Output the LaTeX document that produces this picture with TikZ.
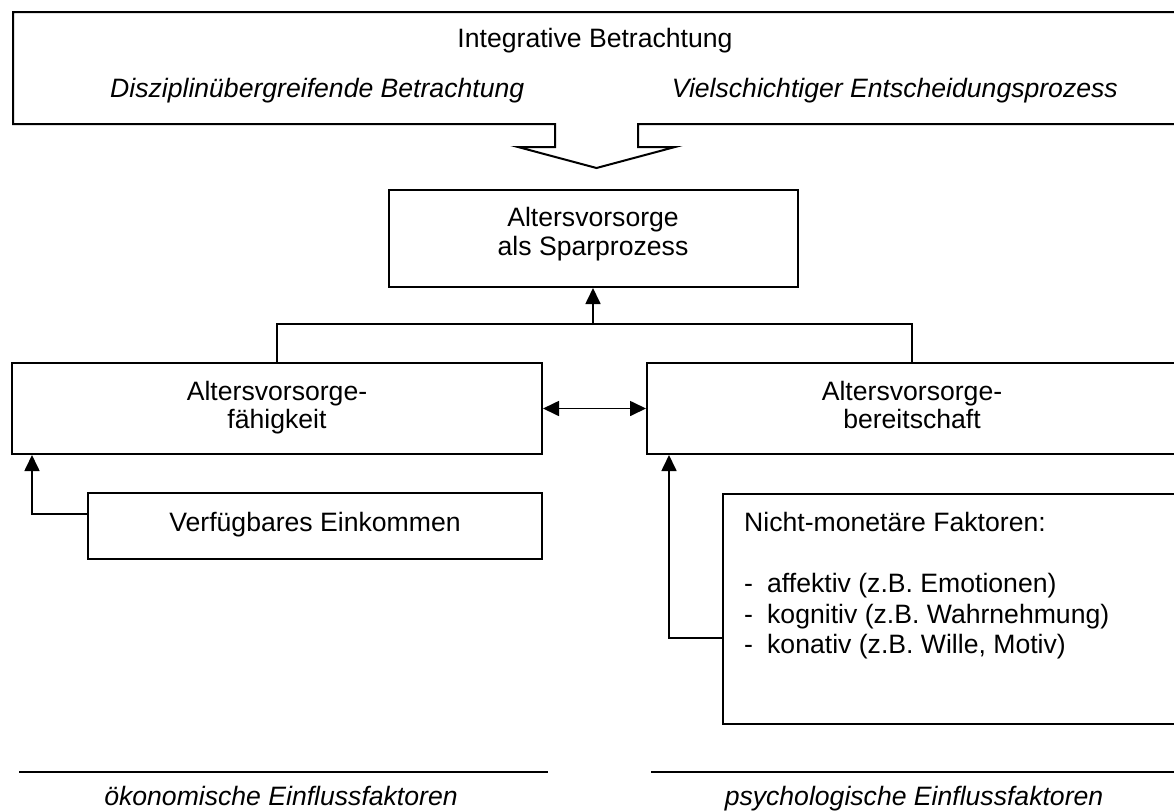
\documentclass[tikz,border=0pt]{standalone}
\usepackage{fontspec}
\setmainfont{Liberation Sans}
\usetikzlibrary{arrows.meta}
\newcommand\mytabc[1]{\begin{tabular}[t]{@{}c@{}}#1\end{tabular}}
\begin{document}
\begin{tikzpicture}[x=1pt,y=-1pt,
  box/.style={draw,line width=2pt,rectangle,inner sep=0pt,
    font=\fontsize{26.6}{28}\selectfont},
  lbl/.style={inner sep=0pt,font=\fontsize{26.6}{28}\selectfont},
  ilbl/.style={inner sep=0pt,font=\fontsize{26.6}{28}\selectfont\itshape},
  conn/.style={line width=1.7pt},
  arr/.style={conn,-{Triangle[length=16pt,width=15pt]}},
  darr/.style={conn,{Triangle[length=16pt,width=15pt]}-{Triangle[length=16pt,width=15pt]}},
]
\useasboundingbox (0,0) rectangle (1174,811);
\clip (0,0) rectangle (1174,811);

% top box with block arrow
\coordinate (tl) at (13,12);
\coordinate (tr) at (1178,12);
\coordinate (br) at (1178,124);
\coordinate (bl) at (13,124);
\coordinate (tip) at (596.5,168);
\draw[line width=2pt,line join=miter]
  (555,124) -- (bl) -- (tl) -- (tr) -- (br) -- (638,124) -- (638,147)
  -- (675,147) -- (tip) -- (518,147) -- (555,147) -- cycle;
\node[lbl,anchor=base] (t1) at (595,47) {Integrative Betrachtung};
\node[ilbl,anchor=base west] (t2) at (110,97) {Disziplinübergreifende Betrachtung};
\node[ilbl,anchor=base east] (t3) at (1118,97) {Vielschichtiger Entscheidungsprozess};

% middle box
\node[box,minimum width=409pt,minimum height=97pt] (mid) at (593,238.5) {};
\node[lbl,anchor=base,font=\fontsize{26.6}{29}\selectfont] (midt) at (593,226)
  {\mytabc{Altersvorsorge\\als Sparprozess}};

% level boxes
\node[box,minimum width=530pt,minimum height=91pt] (lbox) at (277,408.5)
  {\mytabc{Altersvorsorge-\\fähigkeit}};
\node[box,minimum width=530pt,minimum height=91pt] (rbox) at (912,408.5)
  {\mytabc{Altersvorsorge-\\bereitschaft}};

% joins
\draw[conn] (lbox.north) -- ++(0,-38) -| (rbox.north);
\coordinate (j) at (593,325);
\draw[arr] (j) -- (mid.south);
\draw[darr] (lbox.east) -- (rbox.west);

% Verfuegbares Einkommen
\node[box,minimum width=454pt,minimum height=66pt] (vbox) at (315,526)
  {\mytabc{Verfügbares Einkommen}};
\draw[arr] ([yshift=12pt]vbox.west) -| ([xshift=21pt]lbox.south west);

% Nicht-monetaere Faktoren
\node[box,minimum width=454pt,minimum height=230pt] (nbox) at (950,609) {};
\node[lbl,anchor=base west,font=\fontsize{26.6}{30.5}\selectfont] (ntext) at (744,531.7)
  {\begin{tabular}[t]{@{}l@{}}Nicht-monetäre Faktoren:\\ \\
   \makebox[23pt][l]{-}affektiv (z.B. Emotionen)\\
   \makebox[23pt][l]{-}kognitiv (z.B. Wahrnehmung)\\
   \makebox[23pt][l]{-}konativ (z.B. Wille, Motiv)\end{tabular}};
\draw[arr] ([yshift=-29pt]nbox.west) -| ([xshift=23pt]rbox.south west);

% bottom captions
\coordinate (bl1) at (19,772);
\coordinate (bl2) at (548,772);
\coordinate (br1) at (651,772);
\coordinate (br2) at (1180,772);
\draw[conn] (bl1) -- (bl2);
\draw[conn] (br1) -- (br2);
\node[ilbl,anchor=base] (oek) at (281,805) {ökonomische Einflussfaktoren};
\node[ilbl,anchor=base] (psy) at (914,805) {psychologische Einflussfaktoren};
\end{tikzpicture}
\end{document}
